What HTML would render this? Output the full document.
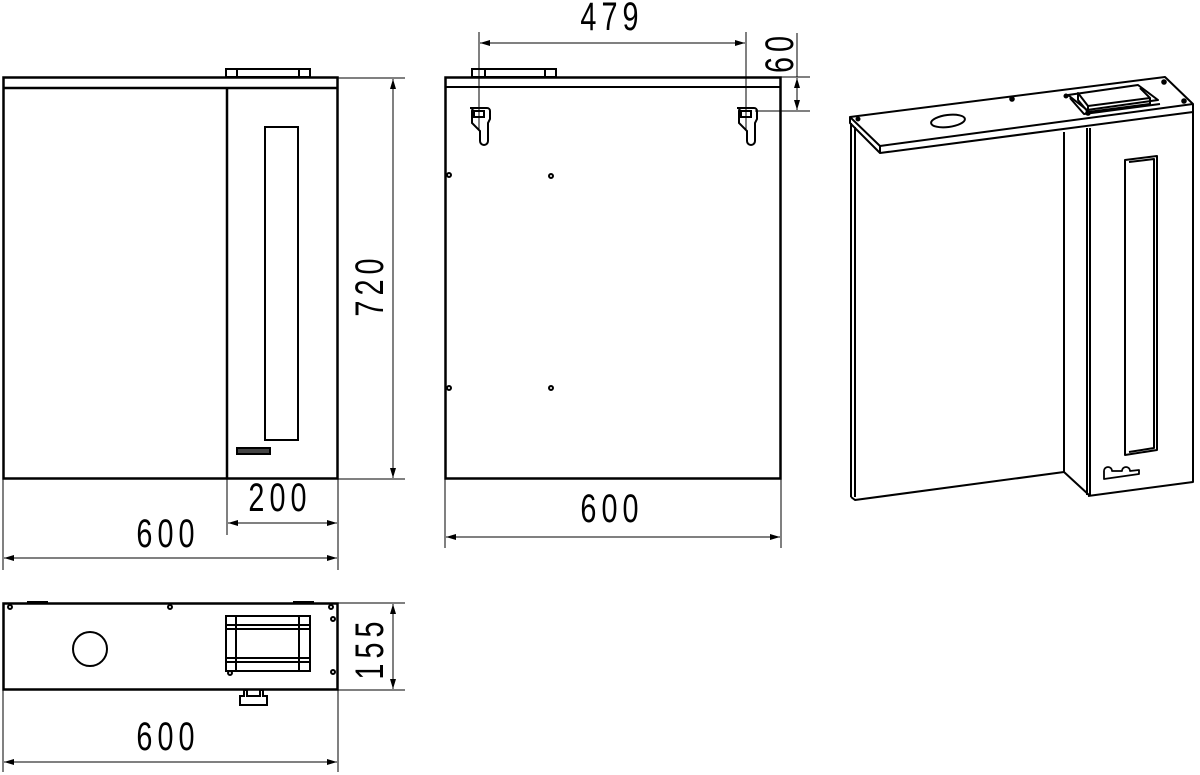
<!DOCTYPE html>
<html><head><meta charset="utf-8"><style>
html,body{margin:0;padding:0;background:#fff;}
svg{display:block}
text{font-family:"Liberation Sans",sans-serif;font-size:40px;fill:#000;letter-spacing:7px}
</style></head><body>
<svg width="1200" height="775" viewBox="0 0 1200 775" xmlns="http://www.w3.org/2000/svg">
<defs>
<marker id="a" viewBox="0 0 10 6" refX="10" refY="3" markerWidth="10" markerHeight="6" orient="auto-start-reverse" markerUnits="userSpaceOnUse"><path d="M0,0L10,3L0,6z" fill="#000"/></marker>
</defs>
<g fill="none" stroke="#000">
<rect x="3.5" y="77.5" width="334" height="401" stroke-width="2.5"/>
<line x1="3" y1="88" x2="338" y2="88" stroke-width="2.5"/>
<line x1="227" y1="88" x2="227" y2="479" stroke-width="2.5"/>
<rect x="265" y="127" width="33" height="313" stroke-width="2"/>
<rect x="237" y="448" width="33" height="6" stroke-width="2" fill="#444"/>
<rect x="226" y="69" width="84" height="8" stroke-width="2"/>
<line x1="237" y1="69" x2="237" y2="77" stroke-width="2"/>
<line x1="299" y1="69" x2="299" y2="77" stroke-width="2"/>
<line x1="338" y1="78" x2="405" y2="78" stroke-width="1"/>
<line x1="338" y1="479" x2="405" y2="479" stroke-width="1"/>
<line x1="393" y1="79" x2="393" y2="478" stroke-width="1" marker-start="url(#a)" marker-end="url(#a)"/>
<line x1="227" y1="479" x2="227" y2="535" stroke-width="1"/>
<line x1="338" y1="479" x2="338" y2="570" stroke-width="1"/>
<line x1="3" y1="479" x2="3" y2="570" stroke-width="1"/>
<line x1="228" y1="523" x2="337" y2="523" stroke-width="1" marker-start="url(#a)" marker-end="url(#a)"/>
<line x1="4" y1="558" x2="337" y2="558" stroke-width="1" marker-start="url(#a)" marker-end="url(#a)"/>

<rect x="445.5" y="77.5" width="335" height="401" stroke-width="2.5"/>
<line x1="445" y1="87" x2="781" y2="87" stroke-width="2"/>
<rect x="472" y="69" width="84" height="8" stroke-width="2"/>
<line x1="485" y1="69" x2="485" y2="77" stroke-width="2"/>
<line x1="545" y1="69" x2="545" y2="77" stroke-width="2"/>
<g stroke-width="2">
<path d="M470,108 h17 a3,3 0 0 1 3,3 v8 l-2,4 v18 a4,4 0 0 1 -8,0 v-10 l-8,-8 v-12 a3,3 0 0 1 3,-3z"/>
<rect x="474" y="111" width="10" height="6"/>
<path d="M737,108 h17 a3,3 0 0 1 3,3 v8 l-2,4 v18 a4,4 0 0 1 -8,0 v-10 l-8,-8 v-12 a3,3 0 0 1 3,-3z"/>
<rect x="741" y="111" width="10" height="6"/>
</g>
<g stroke-width="2"><circle cx="449" cy="175" r="2"/><circle cx="551" cy="176" r="2"/><circle cx="449" cy="388" r="2"/><circle cx="551" cy="388" r="2"/></g>
<line x1="479" y1="32" x2="479" y2="130" stroke-width="1"/>
<line x1="746" y1="32" x2="746" y2="130" stroke-width="1"/>
<line x1="480" y1="43" x2="745" y2="43" stroke-width="1" marker-start="url(#a)" marker-end="url(#a)"/>
<line x1="781" y1="77" x2="810" y2="77" stroke-width="1"/>
<line x1="755" y1="111" x2="810" y2="111" stroke-width="1"/>
<line x1="797" y1="33" x2="797" y2="77" stroke-width="1"/>
<line x1="797" y1="78" x2="797" y2="110" stroke-width="1" marker-start="url(#a)" marker-end="url(#a)"/>
<line x1="445" y1="479" x2="445" y2="548" stroke-width="1"/>
<line x1="781" y1="479" x2="781" y2="548" stroke-width="1"/>
<line x1="446" y1="537" x2="780" y2="537" stroke-width="1" marker-start="url(#a)" marker-end="url(#a)"/>

<rect x="3.5" y="603.5" width="334" height="86" stroke-width="2.5"/>
<circle cx="90" cy="649" r="17" stroke-width="2"/>
<g stroke-width="2">
<rect x="226" y="616" width="84" height="55"/>
<rect x="236" y="616" width="63" height="55"/>
<line x1="226" y1="625" x2="310" y2="625"/><line x1="226" y1="629" x2="310" y2="629"/>
<line x1="226" y1="658" x2="310" y2="658"/><line x1="226" y1="662" x2="310" y2="662"/>
<circle cx="10" cy="607" r="2"/><circle cx="170" cy="607" r="2"/><circle cx="331" cy="607" r="2"/>
<circle cx="333" cy="619" r="2"/><circle cx="333" cy="672" r="2"/><circle cx="230" cy="673" r="2"/>
<path d="M240,705 v-9 h4 v-6 h3 v6 h13 v-6 h3 v6 h4 v9 z"/>
</g>
<line x1="27" y1="602" x2="48" y2="602" stroke-width="2"/>
<line x1="293" y1="602" x2="314" y2="602" stroke-width="2"/>
<line x1="338" y1="603" x2="405" y2="603" stroke-width="1"/>
<line x1="338" y1="690" x2="405" y2="690" stroke-width="1"/>
<line x1="393" y1="604" x2="393" y2="689" stroke-width="1" marker-start="url(#a)" marker-end="url(#a)"/>
<line x1="3" y1="690" x2="3" y2="772" stroke-width="1"/>
<line x1="338" y1="690" x2="338" y2="772" stroke-width="1"/>
<line x1="4" y1="762" x2="337" y2="762" stroke-width="1" marker-start="url(#a)" marker-end="url(#a)"/>

<g stroke-width="2" stroke-linejoin="round">
<path d="M850,117 L1165,77 L1193,104 L880,146 Z"/>
<path d="M880,146 L880,153 L1193,112 L1193,104"/>
<path d="M850,117 L850,123 L880,153"/>
<line x1="851" y1="123" x2="851" y2="497"/>
<line x1="855" y1="127" x2="855" y2="497"/>
<path d="M851,497 L855,500 L1064,472"/>
<line x1="1064" y1="132" x2="1064" y2="472"/>
<path d="M1064,472 L1089,495"/>
<line x1="1087" y1="128" x2="1087" y2="495"/>
<line x1="1090" y1="128" x2="1090" y2="495"/>
<path d="M1088,496 L1193,482 L1193,112"/>
<path d="M1125,160 L1157,156 L1157,450 L1125,455 Z"/>
<path d="M1129,162 L1154,159 L1154,448 L1129,452"/>
<path d="M1104,475 l0,-4 a4,4 0 0 1 8,0 h10 a4,4 0 0 1 8,0 l9,-1 v4 l-35,5 z" stroke-width="1.8"/>
<ellipse cx="948" cy="121" rx="17" ry="6" transform="rotate(-7 948 121)"/>
<path d="M1068,95 L1138,85 L1158,100 L1087,110 Z"/>
<path d="M1078,93 L1088,106 L1088,112 L1078,100 Z"/>
<path d="M1088,106 L1150,98 L1150,104 L1088,112"/>
<path d="M1140,88 L1150,98"/>
<path d="M1070,98 L1084,114 L1160,104"/>
<circle cx="1012" cy="99" r="1.8" fill="#000"/>
<circle cx="858" cy="119" r="1.5" fill="#000"/>
<circle cx="1164" cy="82" r="1.8" fill="#000"/>
<circle cx="1184" cy="101" r="1.8" fill="#000"/>
<circle cx="1066" cy="96" r="1.5" fill="#000"/>
<circle cx="1088" cy="113" r="1.8" fill="#000"/>
</g>
</g>
<text transform="translate(168,547) scale(0.72,1)" text-anchor="middle">600</text>
<text transform="translate(280,511) scale(0.72,1)" text-anchor="middle">200</text>
<text transform="translate(612,522) scale(0.72,1)" text-anchor="middle">600</text>
<text transform="translate(612,30) scale(0.72,1)" text-anchor="middle">479</text>
<text transform="translate(168,750) scale(0.72,1)" text-anchor="middle">600</text>
<text transform="translate(383,285) rotate(-90) scale(0.72,1)" text-anchor="middle">720</text>
<text transform="translate(383,648) rotate(-90) scale(0.72,1)" text-anchor="middle">155</text>
<text transform="translate(793,52) rotate(-90) scale(0.72,1)" text-anchor="middle">60</text>
</svg>
</body></html>
